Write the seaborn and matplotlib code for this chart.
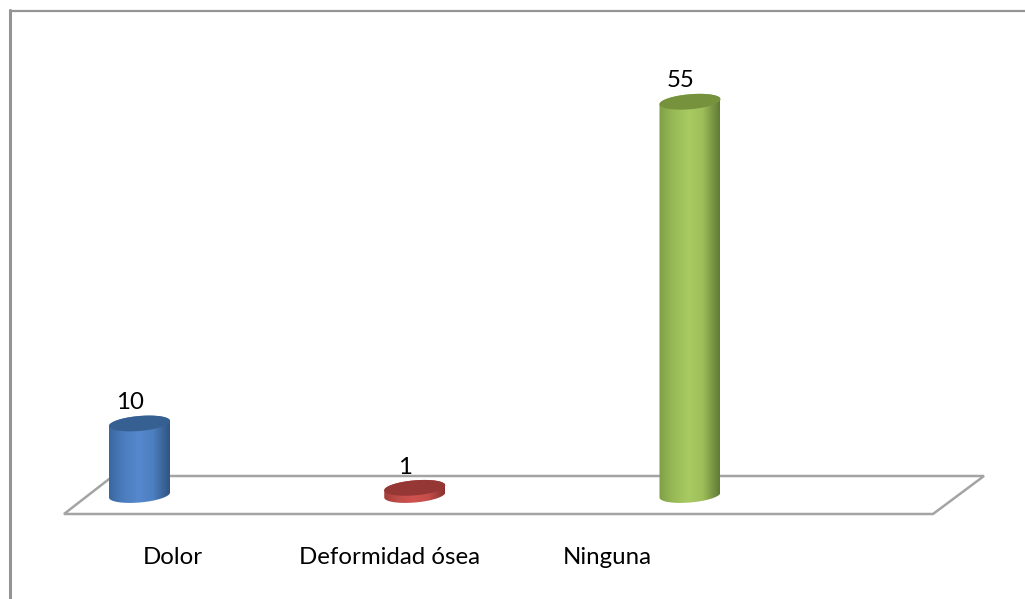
import numpy as np
import pandas as pd
import matplotlib
matplotlib.use("Agg")
import matplotlib.pyplot as plt
from matplotlib.colors import LinearSegmentedColormap
from matplotlib.lines import Line2D
from matplotlib.patches import PathPatch, Polygon
from matplotlib.path import Path
import seaborn as sns

categories = ["Dolor", "Deformidad ósea", "Ninguna"]
values = [10, 1, 55]

side_colors = [
    ["#3a67a0", "#4a7cbc", "#5588cd", "#4d80c2", "#2f5582"],
    ["#a33e3b", "#c04c49", "#d0524f", "#c44e4b", "#8a3230"],
    ["#7f9f46", "#97b956", "#a9cb62", "#9dbe5a", "#5f7a35"],
]
top_colors = ["#376092", "#953735", "#76923c"]
frame_color = "#949494"
floor_color = "#a4a4a4"

W, H = 1025, 599
BASE_PX, PX_PER_VALUE = 495.0, 7.15
FIRST_BAR_PX, PX_PER_CATEGORY = 139.5, 275.25
BAR_PX = 61.0
LABEL_CENTERS_PX = [173, 390, 607]
TEXT_SIZE = 17.3

sns.set_theme(style="white")
plt.rcParams["font.family"] = ["Lato", "DejaVu Sans"]

fig = plt.figure(figsize=(W / 100, H / 100), dpi=100, facecolor="white")
ax = fig.add_axes([0, 0, 1, 1])
ax.set_zorder(1)
xlim = (-FIRST_BAR_PX / PX_PER_CATEGORY, (W - FIRST_BAR_PX) / PX_PER_CATEGORY)
ylim = ((BASE_PX - H) / PX_PER_VALUE, BASE_PX / PX_PER_VALUE)


def fig_px(points):
    return [(x / W, 1 - y / H) for x, y in points]


# Outer chart frame
fig.add_artist(Line2D(*zip(*fig_px([(1025, 10.5), (10, 10.5)])),
                      color=frame_color, lw=1.6, zorder=0))
fig.add_artist(Line2D(*zip(*fig_px([(10, 10), (10, 599)])),
                      color=frame_color, lw=2.2, zorder=0))

# Floor of the 3D plot area
fig.add_artist(Polygon(fig_px([(64, 514), (933, 514), (984, 476), (113, 476)]),
                       closed=True, fill=False, edgecolor=floor_color, lw=1.8,
                       zorder=0.5))

df = pd.DataFrame({"categoria": categories, "valor": values})
sns.barplot(data=df, x="categoria", y="valor", hue="categoria", order=categories,
            hue_order=categories, palette=[c[2] for c in side_colors],
            width=BAR_PX / PX_PER_CATEGORY, legend=False, ax=ax, zorder=2)

half_h = 7.5 / PX_PER_VALUE
tilt = 2.5 / PX_PER_VALUE


def ellipse(cx, cy, half_w, t):
    return np.column_stack([cx + half_w * np.cos(t),
                            cy + half_h * np.sin(t) + tilt * np.cos(t)])


for bar, value, sides, top in zip(ax.patches, values, side_colors, top_colors):
    bar.set_visible(False)
    cx = bar.get_x() + bar.get_width() / 2
    half_w = bar.get_width() / 2

    lower = ellipse(cx, 0, half_w, np.linspace(0, -np.pi, 80))
    upper = ellipse(cx, value, half_w, np.linspace(np.pi, 0, 80))
    outline = np.vstack([lower, upper])
    cmap = LinearSegmentedColormap.from_list(
        "side", list(zip([0, 0.22, 0.48, 0.72, 1], sides)))
    image = ax.imshow(np.linspace(0, 1, 128)[None, :], cmap=cmap, aspect="auto",
                      extent=(cx - half_w, cx + half_w, -half_h * 2, value + half_h * 2),
                      zorder=3)
    image.set_clip_path(PathPatch(Path(np.vstack([outline, outline[:1]]), closed=True),
                                  transform=ax.transData))

    ax.add_patch(Polygon(ellipse(cx, value, half_w, np.linspace(0, 2 * np.pi, 160)),
                         closed=True, facecolor=top, edgecolor="none", zorder=4))
    ax.annotate(str(value), (cx, value), xytext=(-7, 15), textcoords="offset points",
                ha="center", va="center", fontsize=TEXT_SIZE, color="black", zorder=5)

ax.set_xlim(xlim)
ax.set_ylim(ylim)
ax.patch.set_alpha(0)
ax.set_xlabel("")
ax.set_ylabel("")
ax.set_yticks([])
ax.spines[["top", "left", "right"]].set_visible(False)
ax.spines["bottom"].set_visible(False)
ax.spines["bottom"].set_position(("data", (BASE_PX - 547) / PX_PER_VALUE))
ax.set_xticks([(p - FIRST_BAR_PX) / PX_PER_CATEGORY for p in LABEL_CENTERS_PX])
ax.set_xticklabels(categories, fontsize=TEXT_SIZE, color="black")
ax.tick_params(axis="x", length=0, pad=0)

fig.savefig("out.png", dpi=100)
